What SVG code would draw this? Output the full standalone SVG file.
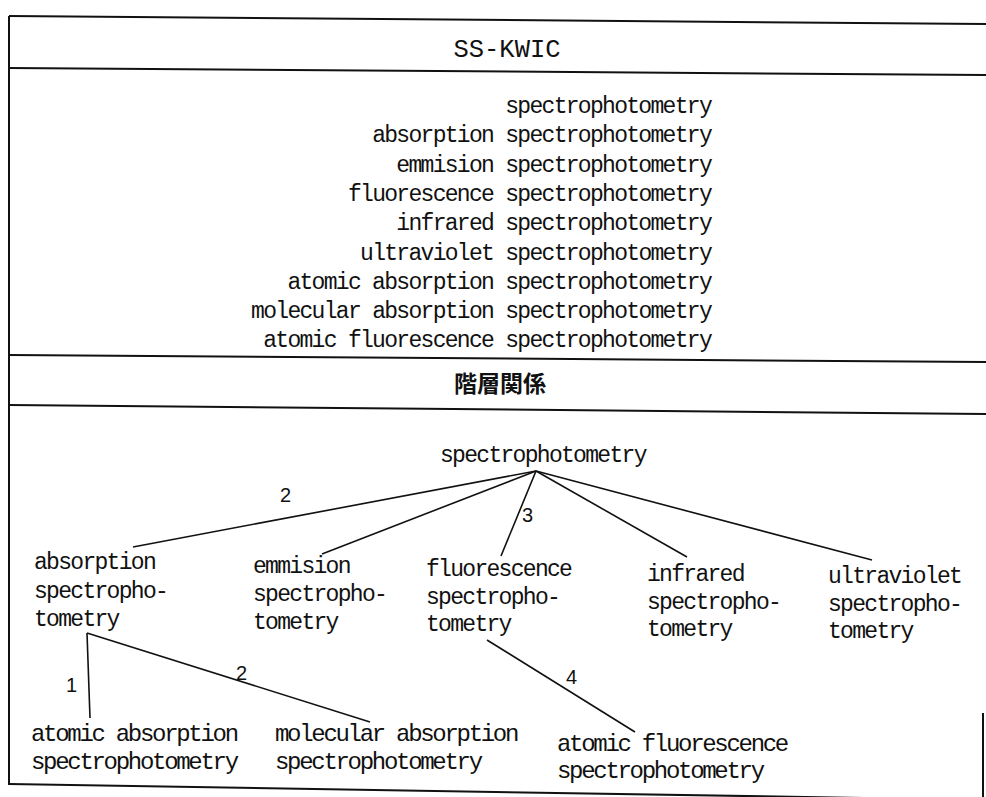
<svg xmlns="http://www.w3.org/2000/svg" width="986" height="797" viewBox="0 0 986 797">
<style>
.t{font-family:"Liberation Mono","DejaVu Sans Mono",monospace;font-size:23px;fill:#111;letter-spacing:-1.7px}
.c{font-family:"Liberation Mono","DejaVu Sans Mono",monospace;font-size:24px;fill:#111;letter-spacing:-2.3px}
.k{font-family:"Liberation Mono","DejaVu Sans Mono",monospace;font-size:23px;fill:#111;letter-spacing:-1.7px;text-anchor:end}
.h{font-family:"Liberation Mono",monospace;font-size:26px;fill:#111}
.j{font-family:"Noto Sans CJK JP","Noto Sans CJK SC",sans-serif;font-size:23px;font-weight:bold;fill:#111}
.n{font-family:"Liberation Sans",sans-serif;font-size:20px;fill:#111}
.f{stroke:#111;stroke-width:2;fill:none}
.e{stroke:#111;stroke-width:1.6;fill:none}
</style>
<rect width="986" height="797" fill="#fff"/>
<g id="frame">
<line class="f" x1="9" y1="16" x2="986" y2="24"/>
<line class="f" x1="9" y1="68" x2="986" y2="75"/>
<line class="f" x1="9" y1="355" x2="986" y2="362"/>
<line class="f" x1="9" y1="405" x2="986" y2="414"/>
<line class="f" x1="9" y1="784" x2="986" y2="800"/>
<line class="f" x1="9" y1="16" x2="9" y2="785"/>
<line class="f" x1="983" y1="713" x2="983" y2="797"/>
</g>
<g id="header-kwic"><text class="h" x="507" y="57" text-anchor="middle" textLength="107" lengthAdjust="spacingAndGlyphs">SS-KWIC</text></g>
<g id="kwic-list">
<text class="k" x="711" y="113">spectrophotometry</text>
<text class="k" x="711" y="142.3">absorption spectrophotometry</text>
<text class="k" x="711" y="171.6">emmision spectrophotometry</text>
<text class="k" x="711" y="200.9">fluorescence spectrophotometry</text>
<text class="k" x="711" y="230.2">infrared spectrophotometry</text>
<text class="k" x="711" y="259.5">ultraviolet spectrophotometry</text>
<text class="k" x="711" y="288.8">atomic absorption spectrophotometry</text>
<text class="k" x="711" y="318.1">molecular absorption spectrophotometry</text>
<text class="k" x="711" y="347.4">atomic fluorescence spectrophotometry</text>
</g>
<g id="header-hier"><text class="j" x="500" y="392" text-anchor="middle">階層関係</text></g>
<g id="connectors">
<line class="e" x1="536" y1="471" x2="133" y2="547"/>
<line class="e" x1="536" y1="471" x2="322" y2="554"/>
<line class="e" x1="536" y1="471" x2="501" y2="556"/>
<line class="e" x1="536" y1="471" x2="687" y2="557"/>
<line class="e" x1="536" y1="471" x2="872" y2="560"/>
<line class="e" x1="87" y1="633" x2="90" y2="718"/>
<line class="e" x1="87" y1="633" x2="370" y2="722"/>
<line class="e" x1="487" y1="640" x2="635" y2="732"/>
<text class="n" x="280" y="502">2</text>
<text class="n" x="522" y="522">3</text>
<text class="n" x="66" y="692">1</text>
<text class="n" x="236" y="680">2</text>
<text class="n" x="566" y="684">4</text>
</g>
<g id="n-root"><text class="t" x="440" y="462">spectrophotometry</text></g>
<g id="n-absorption"><text class="t" x="34" y="569">absorption</text><text class="t" x="34" y="598">spectropho-</text><text class="t" x="34" y="626">tometry</text></g>
<g id="n-emmision"><text class="t" x="253" y="573">emmision</text><text class="t" x="253" y="601">spectropho-</text><text class="t" x="253" y="629">tometry</text></g>
<g id="n-fluorescence"><text class="t" x="426" y="576">fluorescence</text><text class="t" x="426" y="604">spectropho-</text><text class="t" x="426" y="631">tometry</text></g>
<g id="n-infrared"><text class="t" x="647" y="581">infrared</text><text class="t" x="647" y="609">spectropho-</text><text class="t" x="647" y="636">tometry</text></g>
<g id="n-ultraviolet"><text class="t" x="828" y="583">ultraviolet</text><text class="t" x="828" y="611">spectropho-</text><text class="t" x="828" y="638">tometry</text></g>
<g id="n-atomic-absorption"><text class="c" x="31" y="741">atomic absorption</text><text class="c" x="31" y="769">spectrophotometry</text></g>
<g id="n-molecular-absorption"><text class="c" x="275" y="741">molecular absorption</text><text class="c" x="275" y="769">spectrophotometry</text></g>
<g id="n-atomic-fluorescence"><text class="c" x="557" y="751">atomic fluorescence</text><text class="c" x="557" y="778">spectrophotometry</text></g>
</svg>
